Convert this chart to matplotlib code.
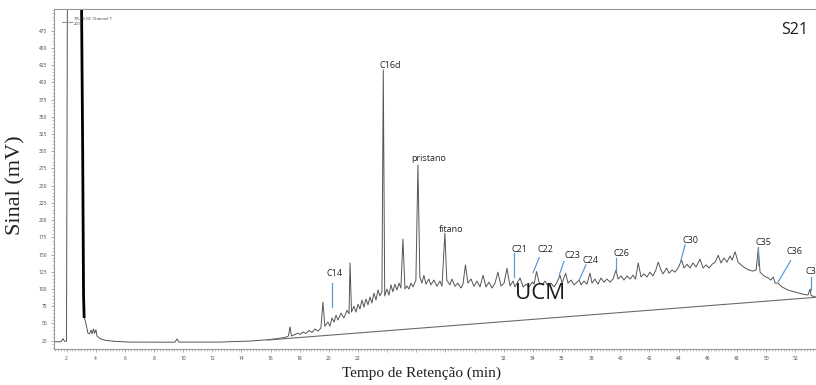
import numpy as np
import matplotlib
matplotlib.use("Agg")
from matplotlib import pyplot as plt

# chromatogram trace: retention time (min), signal (mV)
t = [1.15, 1.61, 1.75, 1.85, 1.99, 2.05, 3.02, 3.1, 3.16, 3.2, 3.32, 3.46, 3.56, 3.67, 3.74,
     3.84, 3.91, 4.01, 4.08, 4.29, 4.63, 5.32, 6.34, 9.43, 9.57, 9.71, 12.52, 14.58, 15.95, 16.98,
     17.22, 17.33, 17.43, 17.67, 17.88, 18.01, 18.22, 18.43, 18.63, 18.84, 19.04, 19.25, 19.45, 19.59, 19.72,
     19.93, 20.07, 20.21, 20.35, 20.49, 20.62, 20.83, 21.03, 21.24, 21.38, 21.45, 21.55, 21.72, 21.86, 22.0,
     22.13, 22.27, 22.41, 22.54, 22.68, 22.82, 22.95, 23.09, 23.23, 23.37, 23.5, 23.64, 23.73, 23.83, 23.98,
     24.12, 24.26, 24.39, 24.53, 24.67, 24.81, 24.94, 25.08, 25.22, 25.36, 25.49, 25.63, 25.77, 25.97, 26.11,
     26.24, 26.38, 26.52, 26.66, 26.86, 27.0, 27.21, 27.41, 27.62, 27.76, 27.96, 28.09, 28.3, 28.44, 28.65,
     28.85, 29.06, 29.2, 29.37, 29.54, 29.75, 29.96, 30.16, 30.37, 30.58, 30.78, 30.99, 31.19, 31.4, 31.6,
     31.81, 32.02, 32.22, 32.43, 32.64, 32.77, 32.91, 33.12, 33.33, 33.53, 33.74, 33.95, 34.08, 34.25, 34.42,
     34.63, 34.83, 35.04, 35.24, 35.45, 35.66, 35.86, 36.0, 36.25, 36.41, 36.62, 36.82, 37.03, 37.18, 37.3,
     37.51, 37.71, 37.92, 38.06, 38.26, 38.47, 38.67, 38.88, 39.09, 39.29, 39.5, 39.71, 39.84, 40.05, 40.25,
     40.46, 40.67, 40.87, 41.04, 41.23, 41.42, 41.62, 41.83, 42.03, 42.24, 42.44, 42.6, 42.79, 42.93, 43.18,
     43.34, 43.55, 43.75, 43.96, 44.21, 44.37, 44.58, 44.78, 44.99, 45.2, 45.47, 45.68, 45.89, 46.09, 46.3,
     46.51, 46.72, 46.91, 47.12, 47.32, 47.53, 47.67, 47.88, 48.08, 48.29, 48.56, 48.84, 49.11, 49.32, 49.47,
     49.59, 49.86, 50.14, 50.34, 50.5, 50.62, 50.82, 51.1, 51.51, 51.99, 52.47, 52.88, 53.02, 53.09, 53.43]
mv = [23.5, 23.5, 28, 24, 24.5, 520, 520, 300, 90, 60, 50, 36, 35, 40.5, 35,
      42, 35.5, 41, 32, 28, 25.6, 24, 23, 22.8, 27.5, 23, 23, 24.5, 26.7, 29.6,
      31.8, 45, 31.8, 34, 36, 34, 37.6, 35.5, 39.8, 37, 42, 39, 43.4, 81, 46,
      52, 46, 58, 52, 62, 55, 65, 58, 69, 64, 138, 66.6, 75, 66.6, 78,
      71, 84, 73.8, 85.5, 77, 88.4, 79.7, 94, 84, 98.6, 90, 96, 418, 90, 100,
      91, 106, 96, 107, 98.5, 108.6, 101.5, 172.6, 100, 104.4, 100, 108.6, 103, 113, 280,
      117.5, 108.6, 120, 107, 114.5, 106, 113, 104, 111.6, 104, 181, 113, 106, 114.5, 104,
      108.6, 101.5, 107, 135, 108.6, 114.5, 104, 111.6, 103, 120, 103, 110, 101.5, 108.6, 124.5,
      104.4, 108.6, 130, 104.4, 111.6, 103, 108.6, 116, 103, 107, 103, 110, 107, 125.4, 110,
      106, 111.6, 104.4, 108.6, 103, 110, 120, 108.6, 123, 108.6, 113, 106, 110, 113, 106,
      111.6, 107, 123, 108.6, 114.5, 107, 116, 110, 114.5, 110, 114.5, 127.6, 114.5, 119, 113,
      119, 114.5, 120, 114.5, 137.8, 117.5, 122, 117.5, 124.5, 119, 127.6, 139, 127.6, 122, 130.5,
      123, 127.6, 124.5, 130.5, 142, 130.5, 136, 130.5, 137.8, 132, 143.5, 130.5, 135, 130.5, 136,
      139, 149, 137.8, 145, 139, 148, 142, 154, 139, 135, 130.5, 127.6, 126, 127.6, 159.5,
      124.5, 119, 116, 113, 117.5, 108.6, 108.6, 103, 98.5, 95.7, 92.8, 91.3, 100, 90.6, 88]

# straight baseline drawn under the unresolved complex mixture
ucm_t = [15.8, 53.43]
ucm_mv = [26, 88]

# peak labels: text, label position, connector line (t0, mv0, t1, mv1) or None
labels = ["C14", "C16d", "pristano", "fitano", "C21", "C22", "C23", "C24", "C26", "C30", "C35", "C36", "C3"]
label_t = [20.38, 24.19, 26.87, 28.37, 33.08, 34.88, 36.68, 37.97, 40.05, 44.83, 49.81, 51.92, 53.1]
label_mv = [122, 424, 290, 186, 158, 158, 148, 142, 151, 170, 167, 154, 126]
leaders = [(20.19, 109, 20.19, 74), None, None, None,
           (32.72, 152, 32.72, 118), (34.43, 145.5, 34.02, 124), (36.13, 140, 35.81, 120.4),
           (37.64, 135, 37.18, 113), (39.7, 144.6, 39.7, 127.6), (44.44, 164, 44.14, 139.7),
           (49.47, 161.4, 49.47, 135), (51.69, 141, 50.84, 110.6), (53.07, 118, 53.07, 98.6)]

plt.rcParams["font.family"] = ["Open Sans", "DejaVu Sans"]
fig = plt.figure(figsize=(8.16, 3.85), dpi=100)
ax = fig.add_axes([0.0665, 0.0935, 0.9335, 0.8831])

ax.plot(t, mv, color="#555555", lw=0.7)
ax.plot(t[6:10], mv[6:10], color="black", lw=2.0)
ax.plot(ucm_t, ucm_mv, color="#6b6b6b", lw=0.8)

blue = "#5b9bd5"
for name, lt, lm, ld in zip(labels, label_t, label_mv, leaders):
    ax.text(lt, lm, name, fontsize=6.5, ha="center", va="center", color="#222222")
    if ld is not None:
        ax.plot([ld[0], ld[2]], [ld[1], ld[3]], color=blue, lw=0.9)

ax.text(34.46, 93, "UCM", fontsize=16, ha="center", va="center", color="#1a1a1a")
ax.text(51.95, 476, "S21", fontsize=11.5, ha="center", va="center", color="#1a1a1a")

# tiny legend in the top-left corner
ax.plot([1.7, 2.35], [487, 487], color="#999999", lw=0.8)
ax.text(2.5, 492, "TR-4S GC Channel 1", fontsize=3, va="center", color="#333333")
ax.text(2.5, 484, "2014", fontsize=3, va="center", color="#333333")

ax.set_xlim(1.15, 53.43)
ax.set_ylim(12.95, 506.4)
ax.set_xticks(np.arange(2, 53, 2))
ax.set_xticklabels(["" if 24 <= v <= 30 else str(v) for v in range(2, 53, 2)])
ax.set_xticks(np.arange(1.2, 53.4, 0.2), minor=True)
ax.set_yticks(np.arange(25, 500, 25))
ax.set_yticks(np.arange(15, 506, 5), minor=True)
ax.tick_params(which="major", length=2, width=0.5, colors="#888888", labelsize=3.5,
               labelcolor="#444444", pad=3)
ax.tick_params(which="minor", length=1.2, width=0.4, colors="#999999")
for side in ["left", "bottom", "top"]:
    ax.spines[side].set_color("#999999")
    ax.spines[side].set_linewidth(0.8)
ax.spines["right"].set_visible(False)

fig.text(16 / 816, 1 - 185 / 385, "Sinal (mV)", rotation=90, ha="center", va="center",
         family="Liberation Serif", fontsize=16, color="#222222")
fig.text(421 / 816, 1 - 373 / 385, "Tempo de Retenção (min)", ha="center", va="center",
         family="Liberation Serif", fontsize=11, color="#222222")

fig.savefig("out.png", dpi=100)
